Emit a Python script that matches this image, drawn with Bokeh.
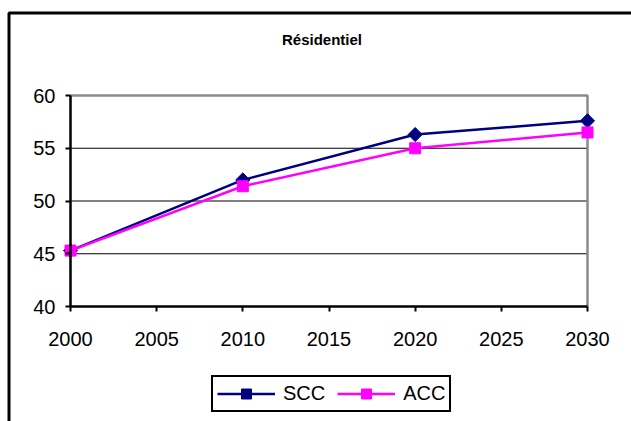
import math

from bokeh.plotting import figure
from bokeh.models import Range1d, FixedTicker, Legend, LegendItem, Label, BoxAnnotation
from bokeh.embed import file_html
from bokeh.resources import INLINE

# Series (consumption index by horizon year)
years = [2000, 2010, 2020, 2030]
scc = [45.3, 52.0, 56.3, 57.6]
acc = [45.3, 51.4, 55.0, 56.5]

# Axis ticks
x_ticks = [2000, 2005, 2010, 2015, 2020, 2025, 2030]
y_ticks = [40, 45, 50, 55, 60]

title_text = "Résidentiel"
series_names = ["SCC", "ACC"]

FONT = "Liberation Sans"
NAVY = "#000080"
MAGENTA = "#FF00FF"

W, H = 631, 421
# pixel box of the plotting area inside the canvas (left, right, top, bottom)
BOX_L, BOX_R, BOX_T, BOX_B = 70, 587, 95, 306

# ranges chosen so the full canvas is the data frame and the axis box
# lands on the pixel box above
x_per_px = (x_ticks[-1] - x_ticks[0]) / (BOX_R - BOX_L)
y_per_px = (y_ticks[-1] - y_ticks[0]) / (BOX_B - BOX_T)
x_range = Range1d(x_ticks[0] - BOX_L * x_per_px, x_ticks[-1] + (W - BOX_R) * x_per_px)
y_range = Range1d(y_ticks[0] - (H - BOX_B) * y_per_px, y_ticks[-1] + BOX_T * y_per_px)

p = figure(
    width=W, height=H,
    output_backend="svg", toolbar_location=None,
    x_range=x_range, y_range=y_range,
    min_border=0, min_border_left=0, min_border_right=0,
    min_border_top=0, min_border_bottom=0,
)
p.outline_line_color = None
p.grid.visible = False
p.background_fill_color = "white"
p.border_fill_color = "white"

# x axis, pinned at the bottom value and limited to the data span
xa = p.xaxis[0]
xa.ticker = FixedTicker(ticks=x_ticks)
xa.bounds = (x_ticks[0], x_ticks[-1])
xa.fixed_location = y_ticks[0]
xa.axis_line_color = "black"
xa.axis_line_width = 2.5
xa.major_tick_line_color = "black"
xa.major_tick_line_width = 2
xa.major_tick_out = 5
xa.major_tick_in = 0
xa.minor_tick_out = 0
xa.minor_tick_in = 0
xa.major_label_standoff = 20
xa.major_label_text_font = FONT
xa.major_label_text_font_size = "20px"
xa.major_label_text_color = "black"

# y axis pinned at the first year
ya = p.yaxis[0]
ya.ticker = FixedTicker(ticks=y_ticks)
ya.bounds = (y_ticks[0], y_ticks[-1])
ya.fixed_location = x_ticks[0]
ya.axis_line_color = "black"
ya.axis_line_width = 2.5
ya.major_tick_line_color = "black"
ya.major_tick_line_width = 2
ya.major_tick_out = 5
ya.major_tick_in = 0
ya.minor_tick_out = 0
ya.minor_tick_in = 0
ya.major_label_standoff = 10
ya.major_label_text_font = FONT
ya.major_label_text_font_size = "20px"
ya.major_label_text_color = "black"

# horizontal gridlines between the bounds
inner = y_ticks[1:-1]
p.segment(x0=[x_ticks[0]] * len(inner), x1=[x_ticks[-1]] * len(inner),
          y0=inner, y1=inner, line_color="black", line_width=1.2)

# grey top/right border of the plotting area
p.line(x=[x_ticks[0], x_ticks[-1], x_ticks[-1]],
       y=[y_ticks[-1], y_ticks[-1], y_ticks[0]],
       line_color="#8a8a8a", line_width=2.5)

# series
l1 = p.line(years, scc, line_color=NAVY, line_width=2.5)
s1 = p.scatter(years, scc, marker="square", angle=math.pi / 4, size=10,
               fill_color=NAVY, line_color=NAVY)
l2 = p.line(years, acc, line_color=MAGENTA, line_width=2.5)
s2 = p.scatter(years, acc, marker="square", size=11,
               fill_color=MAGENTA, line_color=MAGENTA)

legend = Legend(
    items=[LegendItem(label=series_names[0], renderers=[l1, s1]),
           LegendItem(label=series_names[1], renderers=[l2, s2])],
    orientation="horizontal",
    location=(211, H - 412),
    margin=0, padding=4, spacing=12,
    glyph_width=58, glyph_height=25, label_height=22, label_standoff=8,
    label_text_font=FONT, label_text_font_size="20px", label_text_color="black",
    border_line_color="black", border_line_width=2.5, border_line_alpha=1,
    background_fill_color="white", background_fill_alpha=1,
)
p.add_layout(legend)

# chart title
p.add_layout(Label(
    x=321.5, y=H - 39, x_units="screen", y_units="screen",
    text=title_text, text_font=FONT, text_font_style="bold",
    text_font_size="15px", text_align="center", text_baseline="alphabetic",
    text_color="black",
))

# outer chart-area frame
p.add_layout(BoxAnnotation(
    left=8.5, right=W + 100, top=H - 12.5, bottom=-100,
    left_units="screen", right_units="screen",
    top_units="screen", bottom_units="screen",
    fill_color=None, fill_alpha=0,
    line_color="black", line_alpha=1, line_width=3,
))

open("out.html", "w").write(file_html(p, INLINE))
